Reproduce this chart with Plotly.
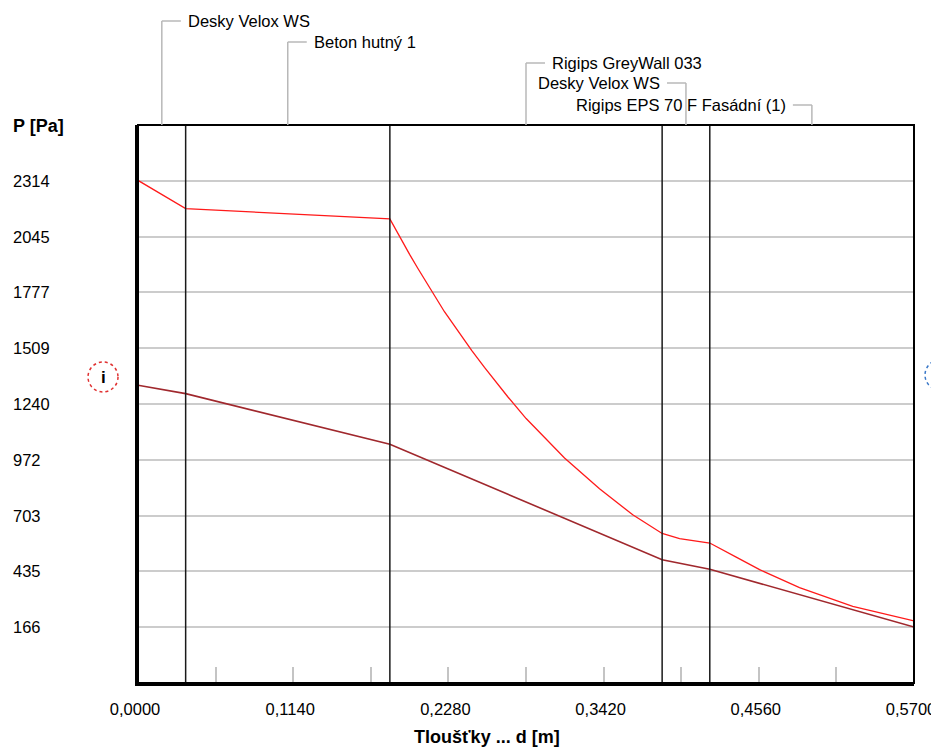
import plotly.graph_objects as go

# ---------------- data ----------------
layer_names = ["Desky Velox WS", "Beton hutný 1", "Rigips GreyWall 033",
               "Desky Velox WS", "Rigips EPS 70 F Fasádní (1)"]
layer_thickness = [0.035, 0.15, 0.2, 0.035, 0.15]

# saturated water vapour pressure (red)
x_sat = [0.0, 0.035, 0.185, 0.1908, 0.1995, 0.2055, 0.2154, 0.2251,
         0.2452, 0.2545, 0.2716, 0.2851, 0.3133, 0.339, 0.3634, 0.385,
         0.3978, 0.42, 0.4394, 0.4566, 0.4859, 0.525, 0.57]
p_sat = [2316, 2180, 2131, 2060, 1960, 1893, 1785, 1684,
         1497, 1416, 1275, 1170, 980, 832, 707, 617,
         592, 571, 503, 443, 356, 266, 196]

# partial water vapour pressure (dark red)
x_part = [0.0, 0.035, 0.185, 0.385, 0.42, 0.57]
p_part = [1330, 1290, 1046, 491, 445, 167]

y_tick_vals = [166, 434.5, 703, 971.5, 1240, 1508.5, 1777, 2045.5, 2314]
y_tick_text = ["166", "435", "703", "972", "1240", "1509", "1777", "2045", "2314"]
x_tick_vals = [0.0, 0.114, 0.228, 0.342, 0.456, 0.57]
x_tick_text = ["0,0000", "0,1140", "0,2280", "0,3420", "0,4560", "0,5700"]
x_minor_vals = [0.057, 0.171, 0.285, 0.399, 0.513]
x_range = [0.0, 0.57]
y_range = [-102.5, 2582.5]

# ---------------- layout geometry ----------------
# the page body has an 8px margin, so the figure is drawn 8px smaller and
# every window pixel position is shifted by that offset
OFF = 8
WIN_W, WIN_H = 939, 749
FIG_W, FIG_H = WIN_W - OFF, WIN_H - OFF
L, T = 138 - OFF, 125 - OFF
R = FIG_W - (914 - OFF)
B = FIG_H - (683 - OFF)
PW, PH = FIG_W - L - R, FIG_H - T - B
FONT = "Liberation Sans, Arial, sans-serif"
EPS = 1e-7  # tiny tolerance so that the end tick label is kept


def px_x(px):  # window pixel -> paper x
    return (px - OFF - L) / PW


def px_y(py):  # window pixel -> paper y
    return (FIG_H - B - (py - OFF)) / PH


# boundaries and mid points of layers
bounds = [0.0]
for t in layer_thickness:
    bounds.append(bounds[-1] + t)
mids = [(bounds[i] + bounds[i + 1]) / 2 for i in range(len(layer_thickness))]

fig = go.Figure()
fig.add_trace(go.Scatter(x=x_sat, y=p_sat, mode="lines",
                         line=dict(color="#ff1a1a", width=1.3),
                         showlegend=False, hoverinfo="skip"))
fig.add_trace(go.Scatter(x=x_part, y=p_part, mode="lines",
                         line=dict(color="#a0282d", width=1.6),
                         showlegend=False, hoverinfo="skip"))

shapes = []
# layer boundary lines
for b in bounds[1:-1]:
    shapes.append(dict(type="line", xref="x", yref="paper", x0=b, x1=b, y0=0, y1=1,
                       line=dict(color="#1a1a1a", width=1.5), layer="above"))
# frame
shapes.append(dict(type="rect", xref="paper", yref="paper", x0=0, x1=1, y0=0, y1=1,
                   line=dict(color="black", width=2), layer="above"))

# layer labels with leaders
label_rows = [21, 42, 63, 83, 105]
label_side = [1, 1, 1, -1, -1]
annotations = []
for name, mid, row, side in zip(layer_names, mids, label_rows, label_side):
    yp = px_y(row)
    shapes.append(dict(type="line", xref="x", yref="paper", x0=mid, x1=mid, y0=1, y1=yp,
                       line=dict(color="#b8b8b8", width=1.5)))
    shapes.append(dict(type="line", xref="x", xsizemode="pixel", xanchor=mid,
                       x0=0, x1=19 * side, yref="paper", y0=yp, y1=yp,
                       line=dict(color="#b8b8b8", width=1.5)))
    annotations.append(dict(text=name, xref="x", x=mid, xshift=24 * side,
                            xanchor="left" if side > 0 else "right",
                            yref="paper", y=yp, yanchor="middle", showarrow=False,
                            font=dict(family=FONT, size=16.5, color="black")))

# y tick labels (left aligned)
for v, t in zip(y_tick_vals, y_tick_text):
    annotations.append(dict(text=t, xref="paper", x=px_x(11), xanchor="left",
                            yref="y", y=v, yanchor="middle", showarrow=False,
                            font=dict(family=FONT, size=16.5, color="black")))

annotations.append(dict(text="<b>P [Pa]</b>", xref="paper", x=px_x(11), xanchor="left",
                        yref="paper", y=px_y(126), yanchor="middle", showarrow=False,
                        font=dict(family=FONT, size=18, color="black")))
annotations.append(dict(text="<b>Tloušťky ... d [m]</b>", xref="paper", x=px_x(487),
                        xanchor="center", yref="paper", y=px_y(737), yanchor="middle",
                        showarrow=False, font=dict(family=FONT, size=18, color="black")))

# interior / exterior markers
markers = [(103, 377, "#e03030", "i", "center", 103),
           (940, 375, "#3a78c8", "e", "left", 931)]
for cx, cy, col, letter, anchor, tx in markers:
    shapes.append(dict(type="circle", xref="paper", xsizemode="pixel", xanchor=px_x(cx),
                       x0=-15, x1=15, yref="paper", ysizemode="pixel", yanchor=px_y(cy),
                       y0=-15, y1=15, line=dict(color=col, width=1.5, dash="dot")))
    annotations.append(dict(text="<b>%s</b>" % letter, xref="paper", x=px_x(tx),
                            yref="paper", y=px_y(cy), xanchor=anchor, yanchor="middle",
                            showarrow=False,
                            font=dict(family=FONT, size=17, color="black")))

fig.update_layout(
    width=FIG_W, height=FIG_H,
    margin=dict(l=L, r=R, t=T, b=B, pad=0, autoexpand=False),
    paper_bgcolor="white", plot_bgcolor="white",
    shapes=shapes, annotations=annotations,
    font=dict(family=FONT, size=16.5, color="black"),
    xaxis=dict(range=[x_range[0], x_range[1] + EPS], tickvals=x_tick_vals,
               ticktext=x_tick_text, ticklabeloverflow="allow", automargin=False,
               ticklabelshift=-3,
               ticks="inside", ticklen=16, tickwidth=1.5, tickcolor="#c4c4c4",
               minor=dict(tickvals=x_minor_vals, ticks="inside", ticklen=16,
                          tickwidth=1.5, tickcolor="#c4c4c4", showgrid=False),
               showgrid=False, zeroline=False, showline=True, linecolor="black",
               linewidth=3, ticklabelstandoff=9,
               tickfont=dict(family=FONT, size=16.5, color="black")),
    yaxis=dict(range=y_range, tickvals=y_tick_vals, showticklabels=False, ticks="",
               automargin=False,
               showgrid=True, gridcolor="#cccccc", gridwidth=1.5, zeroline=False,
               showline=True, linecolor="black", linewidth=3),
)

fig.write_html("out.html")
